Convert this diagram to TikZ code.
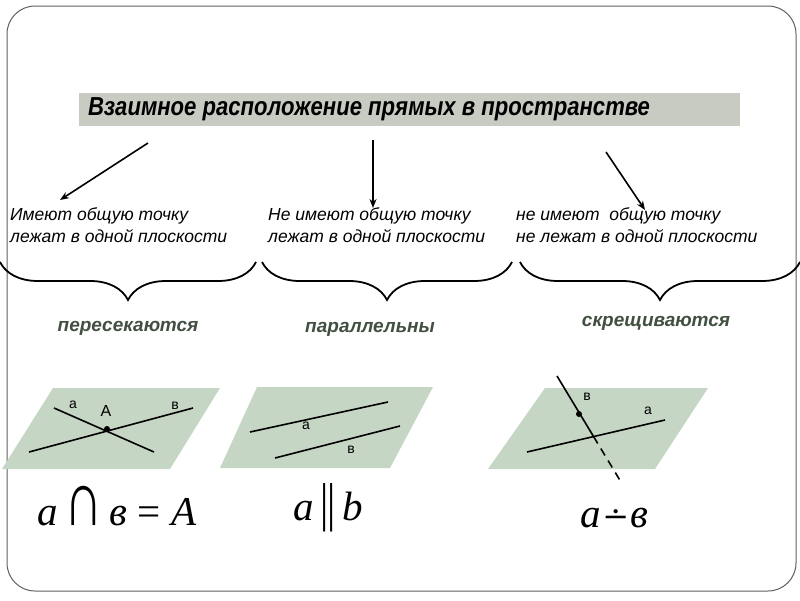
\documentclass[tikz,border=0pt]{standalone}
\usepackage{fontspec}
\setmainfont{Liberation Sans}
\newfontfamily\titlefont[FakeStretch=0.85]{Liberation Sans}
\newfontfamily\formfont{Liberation Serif}
\newfontfamily\opfont{DejaVu Serif}
\usetikzlibrary{arrows.meta, positioning, decorations.pathreplacing}
\definecolor{framegray}{RGB}{95,95,95}
\definecolor{titlebar}{RGB}{200,203,193}
\definecolor{planegreen}{RGB}{197,214,197}
\definecolor{labelgreen}{RGB}{65,80,65}

\begin{document}
\begin{tikzpicture}[
        x=1pt, y=-1pt,
        bar/.style={rectangle, fill=titlebar, minimum width=661pt, minimum height=33pt, inner sep=0pt},
        cond/.style={font=\fontsize{17.5}{22}\selectfont\itshape, align=left, anchor=north west, inner sep=0pt},
        kind/.style={font=\fontsize{19}{22}\selectfont\bfseries\itshape, text=labelgreen, inner sep=0pt},
        pointer/.style={-{Stealth[length=9pt,width=7pt]}, line width=1.6pt},
        brace/.style={decorate, decoration={brace, mirror, amplitude=38pt}, line width=1.8pt},
        plane/.style={fill=planegreen},
        ln/.style={line width=1.6pt},
        lbl/.style={font=\fontsize{14}{14}\selectfont, inner sep=0pt},
        formula/.style={font=\formfont\fontsize{41}{44}\selectfont\itshape, inner sep=0pt, anchor=base west}
    ]
        \useasboundingbox (0,0) rectangle (800,600);
        \draw[framegray, line width=1pt, rounded corners=28pt] (7,6) rectangle (796,591);

        % title
        \node[bar] (bar) at (409.5,109.5) {};
        \node[font=\titlefont\fontsize{26}{28}\selectfont\bfseries\itshape, anchor=west, inner sep=0pt] (title) at ([xshift=9pt]bar.west) {Взаимное расположение прямых в пространстве};

        % three cases
        \node[cond] (common) at (10,207) {Имеют общую точку\\лежат в одной плоскости};
        \node[cond] (flat) at (268,207) {Не имеют общую точку\\лежат в одной плоскости};
        \node[cond] (apart) at (516,207) {не имеют\ \ общую точку\\не лежат в одной плоскости};

        \coordinate (s1) at (148,143);
        \coordinate (e1) at (60,200);
        \coordinate (s2) at (373,140);
        \coordinate (e2) at (373,208);
        \coordinate (s3) at (606,152);
        \coordinate (e3) at (645,210);
        \draw[pointer] (s1) -- (e1);
        \draw[pointer] (s2) -- (e2);
        \draw[pointer] (s3) -- (e3);

        % braces
        \coordinate (b1l) at (0,262);
        \coordinate (b1r) at (256,262);
        \coordinate (b2l) at (262,262);
        \coordinate (b2r) at (512,262);
        \coordinate (b3l) at (520,262);
        \coordinate (b3r) at (800,262);
        \draw[brace] (b1l) -- (b1r);
        \draw[brace] (b2l) -- (b2r);
        \draw[brace] (b3l) -- (b3r);

        \node[kind] (cross) at (128,328) {пересекаются};
        \node[kind] (parallel) at (370,329) {параллельны};
        \node[kind] (skew) at (656,323) {скрещиваются};

        % intersecting lines
        \fill[plane] (53,388) -- (220,388) -- (170,469) -- (2,469) -- cycle;
        \draw[ln] (54,408) -- (154,452);
        \draw[ln] (29,452) -- (193,408);
        \fill (107,429) circle (3pt);
        \node[lbl] (a1) at (73,405) {а};
        \node[lbl, font=\fontsize{16}{16}\selectfont] (A1) at (106,411) {А};
        \node[lbl] (b1) at (175,406) {в};

        % parallel lines
        \fill[plane] (257,387) -- (433,387) -- (390,468) -- (220,468) -- cycle;
        \draw[ln] (250,432) -- (388,402);
        \draw[ln] (275,458) -- (400,426);
        \node[lbl] (a2) at (306,426) {а};
        \node[lbl] (b2) at (351,450) {в};

        % skew lines
        \fill[plane] (545,388) -- (708,388) -- (655,469) -- (488,469) -- cycle;
        \coordinate (top) at (557,376);
        \coordinate (pierce) at (593.6,436.6);
        \coordinate (bot) at (621,482);
        \draw[ln] (527,452) -- (665,420);
        \draw[ln] (top) -- (pierce);
        \draw[ln, dash pattern=on 8pt off 6pt] (pierce) -- (bot);
        \fill (579,414) circle (3pt);
        \node[lbl] (b3) at (587,397) {в};
        \node[lbl] (a3) at (648,411) {а};

        % notation
        \node[formula] (meet) at (37,525) {а\,{\upshape\scalebox{1.3}[1.9]{∩}}\,в {\upshape =} А};
        \node[formula] (par) at (293,520) {а\,{\upshape\scalebox{1}[1.3]{|\kern-1pt|}}\,b};
        \node[formula] (skewsign) at (580,527) {а\hspace{0.04em}{\opfont\upshape\fontsize{32}{32}\selectfont ∸}\hspace{0.04em}в};
    \end{tikzpicture}
\end{document}
